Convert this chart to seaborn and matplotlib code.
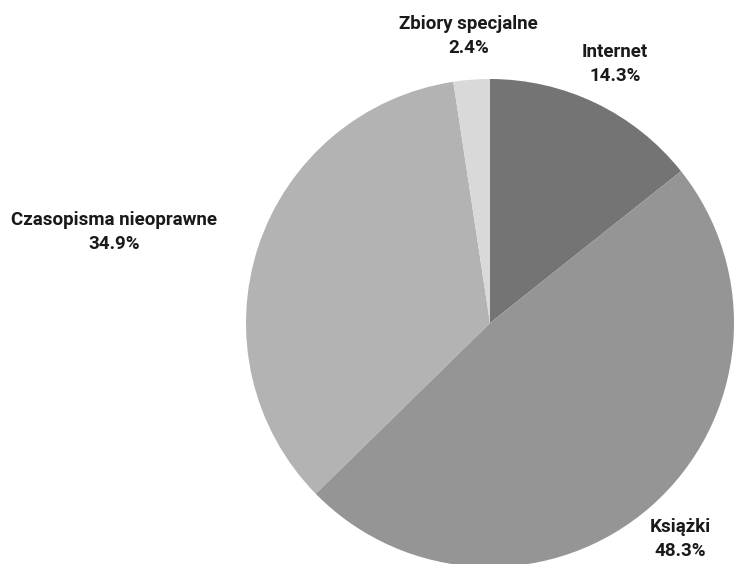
import matplotlib
matplotlib.use('Agg')
import matplotlib.pyplot as plt
import seaborn as sns

categories = ['Internet', 'Książki', 'Czasopisma nieoprawne', 'Zbiory specjalne']
shares = [14.3, 48.3, 34.9, 2.4]
colors = ['#747474', '#959595', '#b3b3b3', '#d9d9d9']

sns.set_theme(style='white')
plt.rcParams['font.family'] = ['Roboto', 'DejaVu Sans']

fig = plt.figure(figsize=(7.34, 5.64), dpi=100)
# pie centre at about (490, 322) px, radius about 244 px
ax = fig.add_axes([246 / 734, -3 / 564, 488 / 734, 488 / 564])

labels = [f'{c}\n{v}%' for c, v in zip(categories, shares)]
wedges, texts = ax.pie(shares, labels=labels, colors=colors, startangle=90,
                       counterclock=False, labeldistance=1.18,
                       wedgeprops=dict(linewidth=0),
                       textprops=dict(fontsize=13.5, fontweight='semibold',
                                      color='#1a1a1a', linespacing=1.45))
for t in texts:
    if t.get_text().startswith('Czasopisma'):
        t.set_ha('right')
    else:
        t.set_ha('center')
    t.set_multialignment('center')

ax.set_xlim(-1, 1)
ax.set_ylim(-1, 1)

fig.savefig('out.png', dpi=100)
